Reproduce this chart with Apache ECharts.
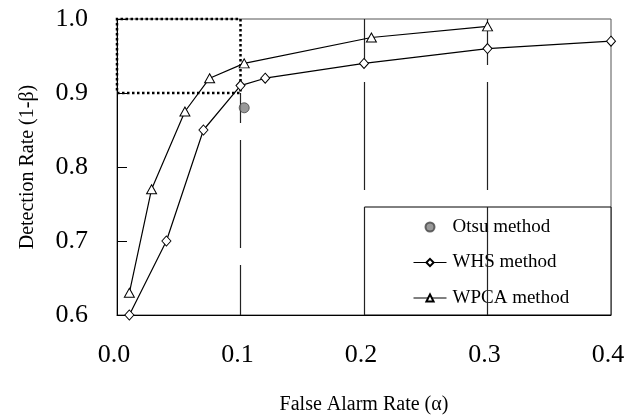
<!DOCTYPE html>
<html>
<head>
<meta charset="utf-8">
<script src="https://cdn.jsdelivr.net/npm/echarts@6/dist/echarts.min.js"></script>
<style>
  html, body { margin: 0; padding: 0; background: #fff; }
  #chart { width: 624px; height: 417px; }
</style>
</head>
<body>
<div id="chart"></div>
<script>
// values
const whsX = [0.01, 0.04, 0.07, 0.10, 0.12, 0.20, 0.30, 0.40]
const whsY = [0.60, 0.70, 0.85, 0.91, 0.92, 0.94, 0.96, 0.97]
const wpcaX = [0.01, 0.028, 0.055, 0.075, 0.103, 0.206, 0.30]
const wpcaY = [0.63, 0.77, 0.875, 0.92, 0.94, 0.975, 0.99]
const otsuX = [0.103]
const otsuY = [0.88]
const refLinesX = [0.1, 0.2, 0.3]
const zoomBox = [[0, 0.9], [0.1, 1.0]]

const FONT = 'Liberation Serif'
const pairs = (xs, ys) => xs.map((x, i) => [x, ys[i]])

const chart = echarts.init(document.getElementById('chart'))

// dashed guide lines; the one at 0.1 stops under the dotted box
const guideLines = refLinesX.map((x, i) => {
  const top = x <= zoomBox[1][0] ? zoomBox[0][1] : 1.0
  return [
    { coord: [x, 0.6], lineStyle: { dashOffset: i === 0 ? 58 : 0 } },
    { coord: [x, top] }
  ]
})

const option = {
  animation: false,
  backgroundColor: '#fff',
  textStyle: { fontFamily: FONT, color: '#000' },
  grid: {
    left: 117,
    right: 13,
    top: 19,
    bottom: 102,
    outerBoundsMode: 'none',
    containLabel: false,
    show: true,
    borderColor: '#555',
    borderWidth: 1
  },
  xAxis: {
    type: 'value',
    min: 0,
    max: 0.4,
    interval: 0.1,
    name: 'False Alarm Rate (α)',
    nameLocation: 'middle',
    nameGap: 80,
    nameTextStyle: { fontFamily: FONT, fontSize: 20, color: '#000' },
    axisLine: { lineStyle: { color: '#000', width: 1 } },
    axisTick: { show: false },
    splitLine: { show: false },
    axisLabel: {
      fontFamily: FONT,
      fontSize: 26,
      color: '#000',
      margin: 27,
      padding: [0, 6, 0, 0],
      formatter: v => v.toFixed(1)
    }
  },
  yAxis: {
    type: 'value',
    min: 0.6,
    max: 1.0,
    interval: 0.1,
    name: 'Detection Rate (1-β)',
    nameLocation: 'middle',
    nameGap: 79,
    nameTextStyle: { fontFamily: FONT, fontSize: 20, color: '#000' },
    axisLine: { lineStyle: { color: '#000', width: 1 } },
    axisTick: { inside: true, length: 10, lineStyle: { color: '#000' } },
    splitLine: { show: false },
    axisLabel: {
      fontFamily: FONT,
      fontSize: 26,
      color: '#000',
      margin: 29,
      formatter: v => v.toFixed(1)
    }
  },
  legend: {
    orient: 'vertical',
    left: 408,
    top: 211,
    itemWidth: 33,
    itemHeight: 9,
    itemGap: 13.5,
    lineStyle: { width: 1 },
    textStyle: { fontFamily: FONT, fontSize: 19, color: '#000', lineHeight: 22, padding: [0, 0, 0, 1] },
    data: ['Otsu method', 'WHS method', 'WPCA method']
  },
  graphic: [
    {
      type: 'rect',
      z: 3,
      shape: { x: 364.5, y: 207, width: 246.5, height: 108 },
      style: { fill: '#fff', stroke: '#000', lineWidth: 1 }
    }
  ],
  series: [
    {
      name: 'Otsu method',
      type: 'scatter',
      z: 5,
      symbol: 'circle',
      symbolSize: 10,
      itemStyle: { color: '#7f7f7f', borderColor: '#444', borderWidth: 1 },
      data: pairs(otsuX, otsuY)
    },
    {
      name: 'WHS method',
      type: 'line',
      z: 5,
      symbol: 'diamond',
      symbolSize: [9, 10],
      showAllSymbol: true,
      lineStyle: { color: '#000', width: 1.2 },
      itemStyle: { color: '#fff', borderColor: '#000', borderWidth: 1 },
      data: pairs(whsX, whsY)
    },
    {
      name: 'WPCA method',
      type: 'line',
      z: 5,
      symbol: 'triangle',
      symbolSize: [10, 9],
      showAllSymbol: true,
      lineStyle: { color: '#000', width: 1.2 },
      itemStyle: { color: '#fff', borderColor: '#000', borderWidth: 1 },
      data: pairs(wpcaX, wpcaY)
    },
    {
      name: 'guides',
      type: 'line',
      z: 1,
      data: [],
      markLine: {
        silent: true,
        symbol: 'none',
        label: { show: false },
        lineStyle: { color: '#222', width: 1.2, type: [108, 17] },
        data: guideLines
      },
      markArea: {
        silent: true,
        itemStyle: {
          color: 'rgba(0,0,0,0)',
          borderColor: '#000',
          borderWidth: 2.5,
          borderType: [2.5, 2.5]
        },
        data: [[{ coord: zoomBox[0] }, { coord: zoomBox[1] }]]
      }
    }
  ]
}

chart.setOption(option)
</script>
</body>
</html>
